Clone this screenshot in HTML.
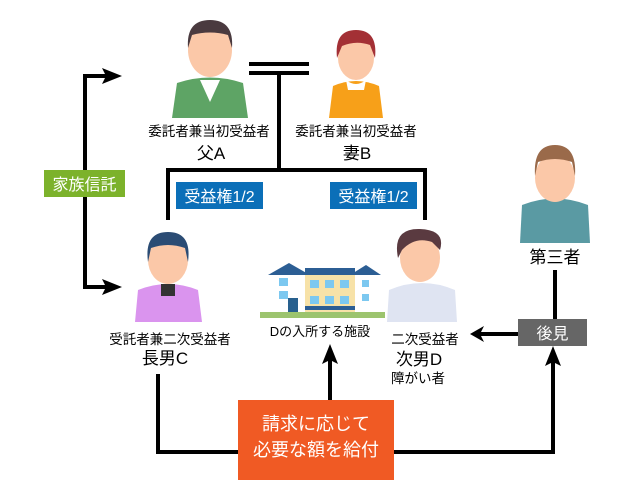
<!DOCTYPE html>
<html><head><meta charset="utf-8"><style>
body{margin:0;background:#fff;}
svg{display:block;font-family:"Liberation Sans","Noto Sans CJK JP",sans-serif;}
</style></head><body>
<svg width="630" height="504" viewBox="0 0 630 504" xmlns="http://www.w3.org/2000/svg">
<g stroke="#000" stroke-width="4" fill="none">
<path d="M112,76 H85 V287 H112"/>
<line x1="249" y1="64" x2="309" y2="64"/><line x1="249" y1="73" x2="309" y2="73"/>
<path d="M279,74 V170"/>
<path d="M168,220 V170 H425 V220"/>
<path d="M158,374 V452 H238"/>
<path d="M394,452 H553 V352"/>
<path d="M330,400 V350"/>
<path d="M555,270 V319"/>
<path d="M518,334 H476"/>
</g>
<g fill="#000">
<path d="M102,68 L122,76 L102,84 L106,76Z"/>
<path d="M102,279 L122,287 L102,295 L106,287Z"/>
<path d="M322,364 L330,344 L338,364 L330,360Z"/>
<path d="M545,366 L553,346 L561,366 L553,362Z"/>
<path d="M484,326 L470,334 L484,342 L480,334Z"/>
</g>
<rect x="44" y="170" width="81" height="27" fill="#7cb22b"/>
<text x="84.5" y="190" font-size="16" fill="#fff" text-anchor="middle">家族信託</text>
<rect x="176" y="182" width="87" height="27" fill="#0b6fb8"/>
<text x="219.5" y="202" font-size="16" fill="#fff" text-anchor="middle">受益権1/2</text>
<rect x="330" y="182" width="87" height="27" fill="#0b6fb8"/>
<text x="373.5" y="202" font-size="16" fill="#fff" text-anchor="middle">受益権1/2</text>
<rect x="518" y="319" width="69" height="27" fill="#666"/>
<text x="552.5" y="339" font-size="16" fill="#fff" text-anchor="middle">後見</text>
<rect x="238" y="400" width="156" height="80" fill="#f05a24"/>
<text x="316" y="430" font-size="18" fill="#fff" text-anchor="middle">請求に応じて</text>
<text x="316" y="456" font-size="18" fill="#fff" text-anchor="middle">必要な額を給付</text>
<!-- father -->
<path d="M172,118 L177,83 Q210,72 243,83 L248,118Z" fill="#5ea465"/>
<path d="M200,80 L210,102 L220,80Z" fill="#fff"/>
<ellipse cx="210" cy="50" rx="22" ry="27" fill="#fbc8a8"/>
<path d="M188,48 Q186,20 210,20 Q234,20 232,48 L228,35 Q210,30 192,35Z" fill="#4a3a3f"/>
<!-- mother -->
<path d="M329,118 L333,86 Q356,76 379,86 L383,118Z" fill="#f7a019"/>
<path d="M346,80 Q356,88 366,80 L364,90 L348,90Z" fill="#fff"/>
<ellipse cx="356" cy="58" rx="18" ry="22" fill="#fbc8a8"/>
<path d="M337,58 Q334,30 356,30 Q378,30 375,58 L370,45 Q356,40 342,46Z" fill="#a33035"/>
<!-- third -->
<path d="M520,243 L522,205 Q555,192 588,205 L590,243Z" fill="#5a9aa3"/>
<ellipse cx="555" cy="178" rx="20" ry="24" fill="#fbc8a8"/>
<path d="M535,176 Q533,145 555,145 Q577,145 575,176 L572,162 Q555,156 538,162Z" fill="#9a6a4a"/>
<!-- C -->
<path d="M135,322 L138,290 Q168,278 198,290 L202,322Z" fill="#da94ee"/>
<rect x="161" y="284" width="14" height="12" fill="#333"/>
<ellipse cx="168" cy="260" rx="20" ry="24" fill="#fbc8a8"/>
<path d="M148,262 Q144,232 168,232 Q192,232 188,262 L185,248 Q168,242 151,248Z" fill="#2b4c74"/>
<!-- D -->
<path d="M387,322 L389,290 Q422,276 455,290 L457,322Z" fill="#dfe4f2"/>
<ellipse cx="420" cy="258" rx="20" ry="24" fill="#fbc8a8"/>
<path d="M398,258 Q392,228 420,229 Q446,230 440,250 L432,242 Q415,236 402,250Z" fill="#5a3a40"/>
<!-- house -->
<rect x="260" y="312" width="125" height="6" fill="#9cc46e"/>
<rect x="273" y="272" width="32" height="40" fill="#fff"/>
<rect x="305" y="274" width="50" height="38" fill="#f7e2a8"/>
<rect x="355" y="272" width="22" height="40" fill="#fff"/>
<path d="M268,275 L289,263 L310,275Z" fill="#2c5e94"/>
<rect x="305" y="268" width="50" height="7" fill="#2c5e94"/>
<path d="M350,275 L366,265 L381,275Z" fill="#2c5e94"/>
<g fill="#7cc8f0">
<rect x="279" y="278" width="9" height="8"/><rect x="279" y="291" width="9" height="8"/>
<rect x="310" y="280" width="9" height="8"/><rect x="325" y="280" width="9" height="8"/><rect x="340" y="280" width="9" height="8"/>
<rect x="310" y="296" width="9" height="8"/><rect x="325" y="296" width="9" height="8"/><rect x="340" y="296" width="9" height="8"/>
<rect x="362" y="280" width="7" height="7"/><rect x="362" y="294" width="7" height="7"/>
</g>
<rect x="288" y="298" width="10" height="14" fill="#28608e"/>
<rect x="305" y="306" width="50" height="4" fill="#2c5e94"/>
<text x="320" y="336" font-size="13" fill="#000" text-anchor="middle">Dの入所する施設</text>
<g font-size="13.5" fill="#000" text-anchor="middle">
<text x="209" y="136">委託者兼当初受益者</text>
<text x="356" y="136">委託者兼当初受益者</text>
<text x="170" y="344">受託者兼二次受益者</text>
<text x="425" y="344">二次受益者</text>
<text x="418" y="383">障がい者</text>
</g>
<g font-size="17" fill="#000" text-anchor="middle">
<text x="211" y="159">父A</text>
<text x="357" y="159">妻B</text>
<text x="555" y="263">第三者</text>
<text x="165" y="364">長男C</text>
<text x="419" y="365">次男D</text>
</g>
</svg>
</body></html>
